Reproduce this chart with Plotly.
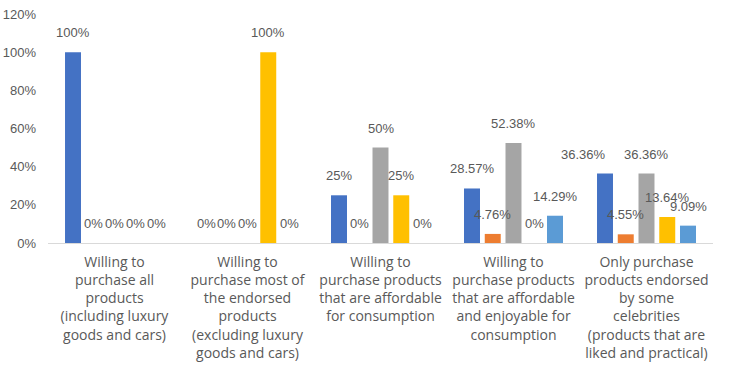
import plotly.graph_objects as go

categories = [
    "Willing to<br>purchase all<br>products<br>(including luxury<br>goods and cars)",
    "Willing to<br>purchase most of<br>the endorsed<br>products<br>(excluding luxury<br>goods and cars)",
    "Willing to<br>purchase products<br>that are affordable<br>for consumption",
    "Willing to<br>purchase products<br>that are affordable<br>and enjoyable for<br>consumption",
    "Only purchase<br>products endorsed<br>by some<br>celebrities<br>(products that are<br>liked and practical)",
]
series_names = ["Series 1", "Series 2", "Series 3", "Series 4", "Series 5"]
series_1 = [100, 0, 25, 28.57, 36.36]
series_2 = [0, 0, 0, 4.76, 4.55]
series_3 = [0, 0, 50, 52.38, 36.36]
series_4 = [0, 100, 25, 0, 13.64]
series_5 = [0, 0, 0, 14.29, 9.09]
label_1 = ["100%", "0%", "25%", "28.57%", "36.36%"]
label_2 = ["0%", "0%", "0%", "4.76%", "4.55%"]
label_3 = ["0%", "0%", "50%", "52.38%", "36.36%"]
label_4 = ["0%", "100%", "25%", "0%", "13.64%"]
label_5 = ["0%", "0%", "0%", "14.29%", "9.09%"]
y_ticks = [0, 20, 40, 60, 80, 100, 120]
y_tick_labels = ["0%", "20%", "40%", "60%", "80%", "100%", "120%"]

colors = ["#4472C4", "#ED7D31", "#A5A5A5", "#FFC000", "#5B9BD5"]
all_series = [series_1, series_2, series_3, series_4, series_5]
all_labels = [label_1, label_2, label_3, label_4, label_5]

BARGAP = 0.22
fig = go.Figure()
for name, vals, col in zip(series_names, all_series, colors):
    fig.add_trace(go.Bar(name=name, x=list(range(len(categories))), y=vals,
                         marker=dict(color=col, line=dict(width=0)),
                         showlegend=False, hoverinfo="skip"))

n = len(all_series)
bar_w = (1 - BARGAP) / n
font_fam = "Liberation Sans, Arial, sans-serif"
for i, (vals, labs) in enumerate(zip(all_series, all_labels)):
    for k, (v, t) in enumerate(zip(vals, labs)):
        xshift = -22 if (i == 0 and k == 4) else 0
        fig.add_annotation(x=k + (i - (n - 1) / 2) * bar_w, y=v, text=t,
                           showarrow=False, yanchor="bottom", yshift=10,
                           xshift=xshift,
                           font=dict(size=13, color="#595959", family=font_fam))

fig.update_layout(
    width=739, height=373,
    margin=dict(l=48, r=26, t=14, b=130, autoexpand=False),
    paper_bgcolor="white", plot_bgcolor="white",
    barmode="group", bargap=BARGAP, bargroupgap=0.23,
    xaxis=dict(tickmode="array", tickvals=list(range(len(categories))),
               ticktext=categories, range=[-0.5, len(categories) - 0.5],
               showline=True, linecolor="#D9D9D9", linewidth=1,
               ticks="", showgrid=False, zeroline=False, automargin=False,
               ticklabelstandoff=6,
               tickfont=dict(size=14, color="#595959", family="Open Sans, sans-serif")),
    yaxis=dict(range=[0, 120], tickmode="array", tickvals=y_ticks,
               ticktext=y_tick_labels, showgrid=False, zeroline=False,
               showline=False, ticks="", ticklen=0, automargin=False,
               ticklabelstandoff=11, ticklabeloverflow="allow",
               tickfont=dict(size=13, color="#595959", family=font_fam)),
)
# remove the browser's default page margin so the figure fills the window
fig.write_html("out.html", config={"displayModeBar": False},
               post_script="document.body.style.margin='0';document.body.style.overflow='hidden';")
